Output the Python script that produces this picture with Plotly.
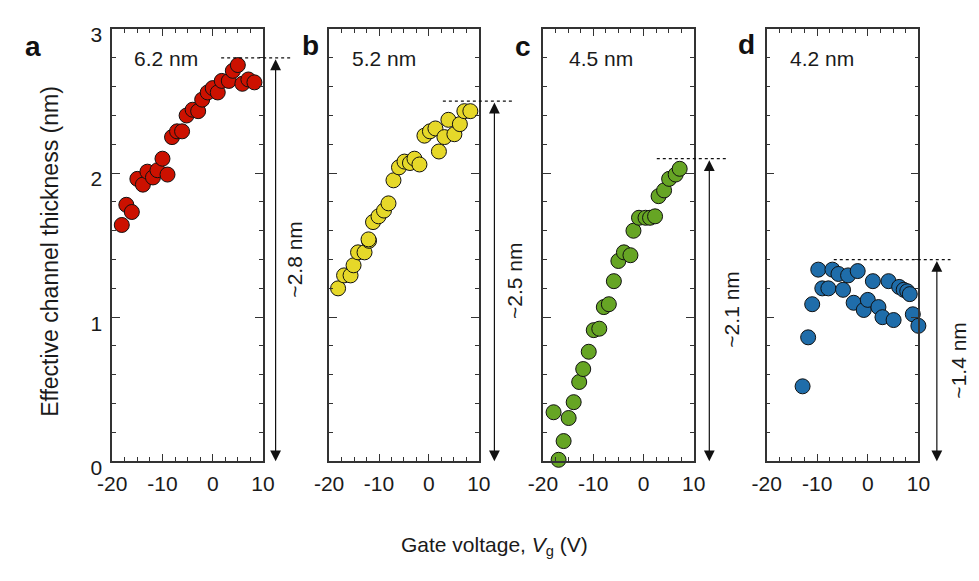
import plotly.graph_objects as go

W, H = 979, 581

# ---------------- data ----------------
vg_a = [-18.1, -17.2, -16.1, -15.0, -13.9, -13.0, -11.9, -11.0, -10.0, -9.0, -8.1, -7.1, -6.1,
        -5.2, -4.0, -2.9, -2.1, -1.0, 0.0, 1.0, 1.8, 3.2, 4.0, 5.0, 5.9, 7.1, 8.3]
t_a = [1.64, 1.78, 1.73, 1.96, 1.92, 2.01, 1.97, 2.02, 2.10, 1.99, 2.25, 2.29, 2.29,
       2.40, 2.44, 2.43, 2.51, 2.56, 2.59, 2.56, 2.64, 2.64, 2.71, 2.75, 2.62, 2.65, 2.63]

vg_b = [-18.2, -17.0, -15.7, -15.1, -14.2, -12.9, -12.0, -12.1, -11.2, -10.1, -9.0, -8.1, -7.1,
        -6.0, -4.9, -3.8, -2.9, -1.9, -0.9, 0.2, 1.3, 2.0, 3.1, 5.1, 3.9, 6.2, 7.1, 8.3]
t_b = [1.20, 1.29, 1.29, 1.36, 1.45, 1.45, 1.53, 1.54, 1.66, 1.70, 1.74, 1.79, 1.95,
       2.04, 2.08, 2.07, 2.10, 2.06, 2.26, 2.29, 2.31, 2.15, 2.25, 2.27, 2.37, 2.34, 2.43, 2.43]

vg_c = [-16.9, -15.9, -17.9, -14.9, -13.9, -12.8, -12.0, -10.9, -9.9, -8.8, -7.9, -6.9, -5.9,
        -5.0, -3.9, -2.6, -2.0, -0.9, 0.4, 1.3, 2.3, 3.0, 4.1, 5.1, 6.4, 7.2]
t_c = [0.01, 0.14, 0.34, 0.30, 0.41, 0.55, 0.64, 0.76, 0.91, 0.92, 1.07, 1.09, 1.25,
       1.39, 1.45, 1.43, 1.60, 1.69, 1.69, 1.69, 1.70, 1.84, 1.88, 1.96, 1.99, 2.03]

vg_d = [-12.9, -11.8, -11.0, -9.8, -9.0, -7.8, -7.0, -5.8, -4.9, -3.9, -2.8, -2.0, -0.8,
        0.0, 1.0, 2.1, 2.9, 4.1, 5.1, 6.2, 7.1, 7.8, 8.3, 8.9, 10.0]
t_d = [0.52, 0.86, 1.09, 1.33, 1.20, 1.20, 1.33, 1.30, 1.19, 1.29, 1.10, 1.32, 1.05,
       1.12, 1.25, 1.07, 1.00, 1.25, 0.98, 1.21, 1.19, 1.18, 1.16, 1.02, 0.94]

panel_letters = ["a", "b", "c", "d"]
thickness_labels = ["6.2 nm", "5.2 nm", "4.5 nm", "4.2 nm"]
max_levels = [2.8, 2.5, 2.1, 1.4]
range_labels = ["~2.8 nm", "~2.5 nm", "~2.1 nm", "~1.4 nm"]
colors = ["#CC1100", "#E6D829", "#66A524", "#1F6DAA"]
x_ticks = [-20, -10, 0, 10]
x_tick_text = ["-20", "-10", "0", "10"]
x_minor_ticks = [-17.5, -15, -12.5, -7.5, -5, -2.5, 2.5, 5, 7.5]
y_ticks = [0, 1, 2, 3]
y_tick_text = ["0", "1", "2", "3"]
y_minor_ticks = [0.2, 0.4, 0.6, 0.8, 1.2, 1.4, 1.6, 1.8, 2.2, 2.4, 2.6, 2.8]

series_x = [vg_a, vg_b, vg_c, vg_d]
series_y = [t_a, t_b, t_c, t_d]

# ---------------- layout geometry (pixels) ----------------
panel_px = [(100, 255), (323, 477), (543, 698), (773, 929)]
top_px, bot_px = 24, 474
dash_px = [(212, 285), (440, 513), (660, 733), (842, 962)]
arrow_px = [268, 493, 714, 948]
rlabel_px = [287, 513, 737, 970]
letter_px = [(19, 42), (304, 41), (522, 42), (752, 40)]
inset_px = [155, 379, 603, 830]

def px(x):
    return x / W

def py(y):
    return 1 - y / H

FONT = "Liberation Sans, Arial, sans-serif"
TXT = "#1a1a1a"
AX = "#333333"

fig = go.Figure()
layout = dict(
    width=W, height=H, margin=dict(l=0, r=0, t=0, b=0, pad=0),
    paper_bgcolor="white", plot_bgcolor="rgba(0,0,0,0)", showlegend=False,
    font=dict(family=FONT, color=TXT),
)
shapes, annotations = [], []

xminor = dict(tickmode="array", tickvals=x_minor_ticks, ticks="inside", ticklen=4,
              tickcolor=AX, tickwidth=1.2, showgrid=False)
yminor = dict(tickmode="array", tickvals=y_minor_ticks, ticks="inside", ticklen=4,
              tickcolor=AX, tickwidth=1.2, showgrid=False)

for i in range(4):
    n_main, n_over = i + 1, i + 5
    sx = "" if n_main == 1 else str(n_main)
    so = str(n_over)
    xa, ya = "x" + sx, "y" + sx
    xo, yo = "x" + so, "y" + so
    l, r = panel_px[i]
    dom_x = [px(l), px(r)]
    dom_y = [py(bot_px), py(top_px)]

    # mirror axes (top / right) carrying the opposite-side ticks
    fig.add_trace(go.Scatter(x=[None], y=[None], xaxis=xo, yaxis=yo, mode="markers",
                             hoverinfo="skip", showlegend=False))
    layout["xaxis" + so] = dict(
        domain=dom_x, range=[-20, 10], anchor=yo, overlaying=xa, side="top",
        tickmode="array", tickvals=x_ticks, ticks="inside", ticklen=7, tickwidth=1.2, tickcolor=AX,
        showticklabels=False, showline=True, linecolor=AX, linewidth=1.5,
        showgrid=False, zeroline=False, minor=xminor,
    )
    layout["yaxis" + so] = dict(
        domain=dom_y, range=[0, 3], anchor=xo, overlaying=ya, side="right",
        tickmode="array", tickvals=y_ticks, ticks="inside", ticklen=8, tickwidth=1.2, tickcolor=AX,
        showticklabels=False, showline=True, linecolor=AX, linewidth=1.5,
        showgrid=False, zeroline=False, minor=yminor,
    )

    fig.add_trace(go.Scatter(
        x=series_x[i], y=series_y[i], mode="markers", xaxis=xa, yaxis=ya,
        cliponaxis=False,
        marker=dict(size=15, color=colors[i], line=dict(color="#111111", width=1)),
    ))
    layout["xaxis" + sx] = dict(
        domain=dom_x, range=[-20, 10], anchor=ya,
        tickmode="array", tickvals=x_ticks, ticktext=x_tick_text, ticks="inside", ticklen=7,
        tickwidth=1.2, tickcolor=AX,
        showline=True, linecolor=AX, linewidth=1.5,
        showgrid=False, zeroline=False, ticklabelstandoff=3,
        tickfont=dict(size=21, family=FONT, color=TXT),
        minor=xminor,
    )
    layout["yaxis" + sx] = dict(
        domain=dom_y, range=[0, 3], anchor=xa,
        tickmode="array", tickvals=y_ticks, ticktext=y_tick_text, ticks="inside", ticklen=8,
        tickwidth=1.2, tickcolor=AX,
        showline=True, linecolor=AX, linewidth=1.5,
        showgrid=False, zeroline=False, showticklabels=(i == 0),
        ticklabelshift=6, ticklabelstandoff=4,
        tickfont=dict(size=21, family=FONT, color=TXT),
        minor=yminor,
    )
    # dashed level line
    d0, d1 = dash_px[i]
    shapes.append(dict(type="line", xref="paper", yref=ya, x0=px(d0), x1=px(d1),
                       y0=max_levels[i], y1=max_levels[i],
                       line=dict(color="#111111", width=1.2, dash="3px,3px")))
    # double arrow
    annotations.append(dict(xref="paper", yref=ya, x=px(arrow_px[i]), y=0,
                            axref="pixel", ayref=ya, ax=0, ay=max_levels[i],
                            text="", showarrow=True, arrowhead=2, arrowside="end+start",
                            arrowsize=1.8, arrowwidth=1.2, arrowcolor="#111111",
                            standoff=0, startstandoff=0))
    # range label
    annotations.append(dict(xref="paper", yref=ya, x=px(rlabel_px[i]), y=max_levels[i] / 2,
                            text=range_labels[i], showarrow=False, textangle=-90,
                            xanchor="center", yanchor="middle",
                            font=dict(size=21, family=FONT, color=TXT)))
    # thickness inset label
    annotations.append(dict(xref="paper", yref="paper", x=px(inset_px[i]), y=py(55),
                            text=thickness_labels[i], showarrow=False,
                            xanchor="center", yanchor="middle",
                            font=dict(size=21, family=FONT, color=TXT)))
    # panel letter
    lx, ly = letter_px[i]
    annotations.append(dict(xref="paper", yref="paper", x=px(lx), y=py(ly),
                            text="<b>%s</b>" % panel_letters[i], showarrow=False,
                            xanchor="center", yanchor="middle",
                            font=dict(size=28, family=FONT, color="#111111")))

annotations.append(dict(xref="paper", yref="paper", x=px(36), y=py(256),
                        text="Effective channel thickness (nm)", showarrow=False,
                        textangle=-90, xanchor="center", yanchor="middle",
                        font=dict(size=23, family=FONT, color=TXT)))
annotations.append(dict(xref="paper", yref="paper", x=px(493), y=py(562),
                        text="Gate voltage, <i>V</i><sub>g</sub> (V)", showarrow=False,
                        xanchor="center", yanchor="middle",
                        font=dict(size=21, family=FONT, color=TXT)))

layout["shapes"] = shapes
layout["annotations"] = annotations
fig.update_layout(**layout)
fig.write_html("out.html")
